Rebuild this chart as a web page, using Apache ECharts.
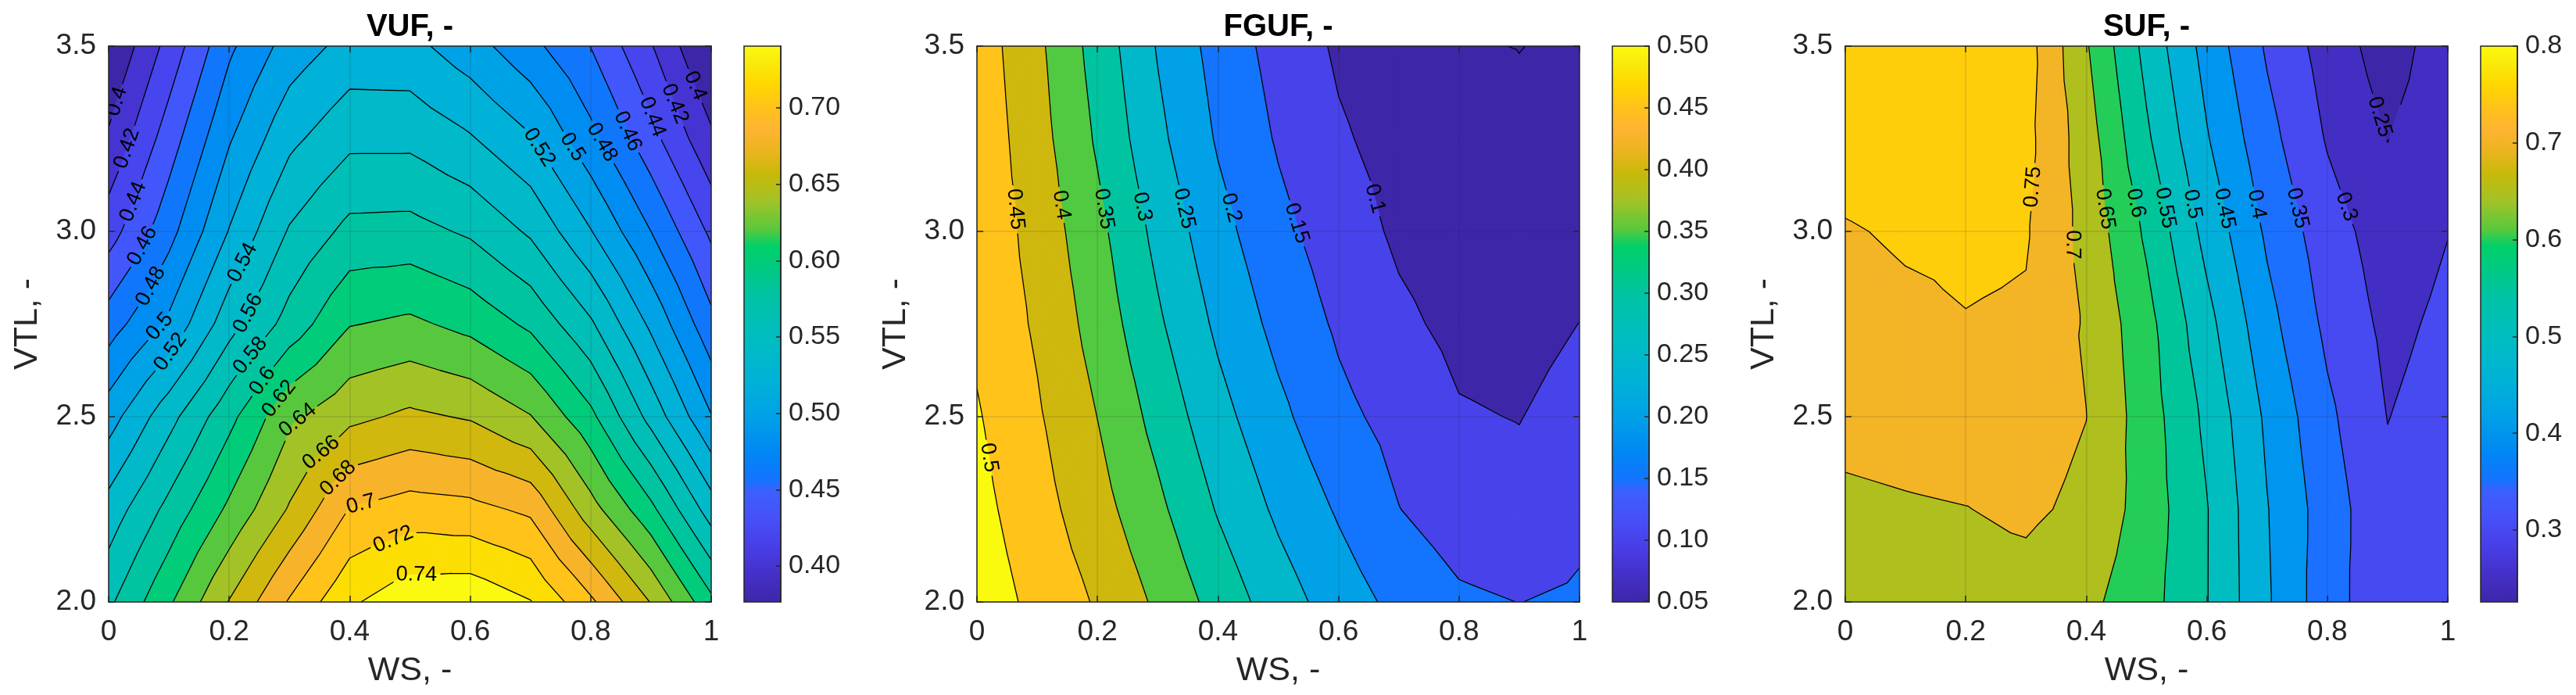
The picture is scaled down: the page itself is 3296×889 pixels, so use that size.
<!DOCTYPE html>
<html>
<head>
<meta charset="utf-8">
<title>VUF / FGUF / SUF</title>
<script src="https://cdn.jsdelivr.net/npm/echarts@6.0.0/dist/echarts.min.js"></script>
<style>
html, body { margin: 0; padding: 0; background: #fff; }
#chart { width: 3296px; height: 889px; }
</style>
</head>
<body>
<div id="chart"></div>
<script>
// measurement grid: columns = WS, rows = VTL (bottom row first)
var ws = [0, 0.1, 0.2, 0.3, 0.4, 0.5, 0.6, 0.7, 0.8, 0.9, 1.0];
var vtl = [2.0, 2.25, 2.5, 2.75, 3.0, 3.25, 3.5];

var vuf = [
    [0.576, 0.617, 0.661, 0.702, 0.737, 0.753, 0.755, 0.741, 0.704, 0.659, 0.605],
    [0.548, 0.586, 0.624, 0.662, 0.701, 0.709, 0.706, 0.696, 0.648, 0.605, 0.550],
    [0.511, 0.553, 0.594, 0.636, 0.655, 0.664, 0.658, 0.641, 0.605, 0.553, 0.501],
    [0.470, 0.504, 0.552, 0.588, 0.619, 0.624, 0.614, 0.596, 0.563, 0.516, 0.466],
    [0.431, 0.473, 0.521, 0.562, 0.586, 0.587, 0.577, 0.557, 0.521, 0.480, 0.436],
    [0.403, 0.450, 0.498, 0.535, 0.555, 0.555, 0.542, 0.522, 0.486, 0.447, 0.404],
    [0.3795, 0.427, 0.476, 0.5085, 0.527, 0.526, 0.5085, 0.486, 0.4596, 0.4215, 0.3764]
];
var fguf = [
    [0.5285, 0.487, 0.4448, 0.3915, 0.3312, 0.2742, 0.2259, 0.186, 0.158, 0.1495, 0.157],
    [0.516, 0.470, 0.419, 0.361, 0.296, 0.2407, 0.1945, 0.151, 0.125, 0.1155, 0.138],
    [0.5044, 0.4558, 0.3994, 0.3336, 0.267, 0.212, 0.163, 0.133, 0.104, 0.0985, 0.119],
    [0.490, 0.443, 0.380, 0.3077, 0.2405, 0.1855, 0.1427, 0.1096, 0.088, 0.083, 0.1005],
    [0.487, 0.432, 0.3636, 0.286, 0.217, 0.1637, 0.1245, 0.092, 0.075, 0.066, 0.075],
    [0.484, 0.420, 0.3434, 0.262, 0.1948, 0.145, 0.106, 0.083, 0.066, 0.0558, 0.062],
    [0.478, 0.411, 0.330, 0.2464, 0.1806, 0.1317, 0.093, 0.072, 0.052, 0.0495, 0.0545]
];
var suf = [
    [0.675, 0.680, 0.680, 0.682, 0.662, 0.6196, 0.552, 0.456, 0.3706, 0.315, 0.335],
    [0.690, 0.695, 0.699, 0.708, 0.690, 0.628, 0.5524, 0.4523, 0.375, 0.311, 0.330],
    [0.715, 0.720, 0.725, 0.720, 0.7005, 0.625, 0.539, 0.441, 0.3603, 0.299, 0.320],
    [0.725, 0.737, 0.748, 0.744, 0.695, 0.617, 0.516, 0.4167, 0.339, 0.288, 0.310],
    [0.745, 0.7578, 0.760, 0.7543, 0.684, 0.5915, 0.484, 0.392, 0.3217, 0.275, 0.299],
    [0.780, 0.790, 0.790, 0.7645, 0.674, 0.558, 0.4538, 0.3667, 0.296, 0.249, 0.285],
    [0.785, 0.795, 0.799, 0.771, 0.6548, 0.5344, 0.4315, 0.3438, 0.2787, 0.2256, 0.2786]
];

// contour levels
var vufLevels = [0.40, 0.42, 0.44, 0.46, 0.48, 0.50, 0.52, 0.54, 0.56, 0.58, 0.60, 0.62, 0.64, 0.66, 0.68, 0.70, 0.72, 0.74];
var fgufLevels = [0.05, 0.10, 0.15, 0.20, 0.25, 0.30, 0.35, 0.40, 0.45, 0.50];
var sufLevels = [0.25, 0.30, 0.35, 0.40, 0.45, 0.50, 0.55, 0.60, 0.65, 0.70, 0.75];

// where the inline labels sit: [level, WS, VTL]
var vufLabels = [
    [0.40, 0.019, 3.348], [0.42, 0.037, 3.22], [0.44, 0.044, 3.078], [0.46, 0.059, 2.958],
    [0.48, 0.079, 2.844], [0.50, 0.09, 2.736], [0.52, 0.112, 2.664],
    [0.54, 0.222, 2.916], [0.56, 0.233, 2.778], [0.58, 0.245, 2.652], [0.60, 0.268, 2.582],
    [0.62, 0.30, 2.526], [0.64, 0.332, 2.454], [0.66, 0.363, 2.382], [0.68, 0.395, 2.31],
    [0.70, 0.423, 2.238], [0.72, 0.473, 2.166], [0.74, 0.511, 2.094],
    [0.52, 0.704, 3.216], [0.50, 0.77, 3.228], [0.48, 0.825, 3.246], [0.46, 0.861, 3.27],
    [0.44, 0.898, 3.306], [0.42, 0.936, 3.342], [0.40, 0.969, 3.39]
];
var fgufLabels = [
    [0.50, 0.015, 2.388], [0.45, 0.065, 3.06], [0.40, 0.142, 3.072], [0.35, 0.208, 3.06],
    [0.30, 0.272, 3.066], [0.25, 0.339, 3.06], [0.20, 0.414, 3.06], [0.15, 0.523, 3.018],
    [0.10, 0.651, 3.084]
];
var sufLabels = [
    [0.75, 0.311, 3.12], [0.70, 0.384, 2.964], [0.65, 0.429, 3.06], [0.60, 0.47, 3.072],
    [0.55, 0.52, 3.06], [0.50, 0.571, 3.072], [0.45, 0.625, 3.06], [0.40, 0.68, 3.072],
    [0.35, 0.744, 3.06], [0.30, 0.821, 3.06], [0.25, 0.881, 3.306]
];

// colour bar limits and ticks
var vufRange = [0.3764, 0.7405];
var fgufRange = [0.0495, 0.50];
var sufRange = [0.2256, 0.80];
var vufBarTicks = [0.40, 0.45, 0.50, 0.55, 0.60, 0.65, 0.70];
var fgufBarTicks = [0.05, 0.10, 0.15, 0.20, 0.25, 0.30, 0.35, 0.40, 0.45, 0.50];
var sufBarTicks = [0.3, 0.4, 0.5, 0.6, 0.7, 0.8];

var FONT = 'Liberation Sans, Arial, sans-serif';
var INK = '#262626';

// parula-like colormap, stops
var CMAP = [
    [0.00, 62, 38, 168], [0.05, 68, 48, 200], [0.10, 72, 62, 230], [0.15, 70, 80, 248],
    [0.20, 60, 95, 255], [0.22, 20, 115, 255], [0.27, 0, 135, 245], [0.33, 0, 160, 232],
    [0.40, 0, 178, 215], [0.47, 0, 188, 195], [0.55, 0, 195, 165], [0.60, 0, 202, 130],
    [0.64, 0, 208, 105], [0.67, 90, 200, 60], [0.72, 160, 195, 40], [0.77, 200, 185, 10],
    [0.81, 235, 180, 30], [0.85, 255, 180, 50], [0.89, 255, 195, 25], [0.93, 255, 215, 0],
    [0.97, 250, 235, 10], [1.00, 250, 250, 15]
];

function cmap(t) {
    t = Math.max(0, Math.min(1, t));
    for (var i = 0; i < CMAP.length - 1; i++) {
        var a = CMAP[i], b = CMAP[i + 1];
        if (t <= b[0]) {
            var u = (t - a[0]) / (b[0] - a[0]);
            return 'rgb(' + Math.round(a[1] + (b[1] - a[1]) * u) + ',' +
                Math.round(a[2] + (b[2] - a[2]) * u) + ',' + Math.round(a[3] + (b[3] - a[3]) * u) + ')';
        }
    }
    var l = CMAP[CMAP.length - 1];
    return 'rgb(' + l[1] + ',' + l[2] + ',' + l[3] + ')';
}

/* ---------- contour helpers ---------- */

function cellTriangles(x0, y0, x1, y1, v00, v10, v01, v11) {
    var a = {x: x0, y: y0, v: v00}, b = {x: x1, y: y0, v: v10};
    var c = {x: x1, y: y1, v: v11}, d = {x: x0, y: y1, v: v01};
    var m = {x: (x0 + x1) / 2, y: (y0 + y1) / 2, v: (v00 + v10 + v01 + v11) / 4};
    return [[a, b, m], [b, c, m], [c, d, m], [d, a, m]];
}
function lerp(a, b, lev) {
    var t = (lev - a.v) / (b.v - a.v);
    return {x: a.x + t * (b.x - a.x), y: a.y + t * (b.y - a.y), v: lev};
}
// keep the part of a polygon above (or below) a level
function cut(poly, lev, above) {
    var out = [];
    for (var i = 0; i < poly.length; i++) {
        var cur = poly[i], prev = poly[(i + poly.length - 1) % poly.length];
        var cin = above ? cur.v >= lev : cur.v <= lev;
        var pin = above ? prev.v >= lev : prev.v <= lev;
        if (cin) {
            if (!pin) out.push(lerp(prev, cur, lev));
            out.push(cur);
        } else if (pin) {
            out.push(lerp(prev, cur, lev));
        }
    }
    return out;
}
function bandPieces(tri, levels) {
    var pieces = [];
    for (var b = -1; b < levels.length; b++) {
        var poly = tri;
        if (b >= 0) poly = cut(poly, levels[b], true);
        if (poly.length >= 3 && b + 1 < levels.length) poly = cut(poly, levels[b + 1], false);
        if (poly.length >= 3) pieces.push({band: b, poly: poly});
    }
    return pieces;
}
function triSegment(tri, lev) {
    var pts = [];
    for (var i = 0; i < 3; i++) {
        var a = tri[i], b = tri[(i + 1) % 3];
        if ((a.v < lev) !== (b.v < lev)) pts.push(lerp(a, b, lev));
    }
    return pts.length === 2 ? pts : null;
}
function cutCircle(p, q, c, r) {
    var dx = q[0] - p[0], dy = q[1] - p[1];
    var fx = p[0] - c[0], fy = p[1] - c[1];
    var A = dx * dx + dy * dy, B = 2 * (fx * dx + fy * dy), C = fx * fx + fy * fy - r * r;
    if (A === 0) return C > 0 ? [[p, q]] : [];
    var disc = B * B - 4 * A * C;
    if (disc <= 0) return [[p, q]];
    var s = Math.sqrt(disc), t1 = (-B - s) / (2 * A), t2 = (-B + s) / (2 * A);
    if (t2 <= 0 || t1 >= 1) return [[p, q]];
    var out = [];
    if (t1 > 0) out.push([p, [p[0] + dx * t1, p[1] + dy * t1]]);
    if (t2 < 1) out.push([[p[0] + dx * t2, p[1] + dy * t2], q]);
    return out;
}
function textWidth(str, size) {
    var t = new echarts.graphic.Text({style: {text: str, fontSize: size, fontFamily: FONT}});
    return t.getBoundingRect().width;
}

/* ---------- panels ---------- */

var panels = [
    {title: 'VUF, -', z: vuf, levels: vufLevels, labels: vufLabels, range: vufRange, barTicks: vufBarTicks, digits: 2, left: 139},
    {title: 'FGUF, -', z: fguf, levels: fgufLevels, labels: fgufLabels, range: fgufRange, barTicks: fgufBarTicks, digits: 2, left: 1250},
    {title: 'SUF, -', z: suf, levels: sufLevels, labels: sufLabels, range: sufRange, barTicks: sufBarTicks, digits: 1, left: 2361}
];
var PLOT_TOP = 59, PLOT_W = 771, PLOT_H = 711, BAR_OFF = 813, BAR_W = 47;

panels.forEach(function (p) {
    var span = p.range[1] - p.range[0];
    p.bandColors = [cmap(0)].concat(p.levels.map(function (l) {
        return cmap((l - p.range[0]) / span);
    }));
    p.cells = [];
    for (var r = 0; r < vtl.length - 1; r++) {
        for (var c = 0; c < ws.length - 1; c++) {
            p.cells.push([ws[c], vtl[r], ws[c + 1], vtl[r + 1],
                p.z[r][c], p.z[r][c + 1], p.z[r + 1][c], p.z[r + 1][c + 1]]);
        }
    }
});

function renderFill(p) {
    return function (params, api) {
        var tris = cellTriangles(api.value(0), api.value(1), api.value(2), api.value(3),
            api.value(4), api.value(5), api.value(6), api.value(7));
        var children = [];
        tris.forEach(function (tri) {
            bandPieces(tri, p.levels).forEach(function (piece) {
                var pts = piece.poly.map(function (q) { return api.coord([q.x, q.y]); });
                var col = p.bandColors[piece.band + 1];
                children.push({type: 'polygon', shape: {points: pts},
                    style: {fill: col, stroke: col, lineWidth: 1}});
            });
        });
        return {type: 'group', children: children};
    };
}

function renderLines(p) {
    return function (params, api) {
        var segs = p.levels.map(function () { return []; });
        p.cells.forEach(function (cell) {
            var tris = cellTriangles.apply(null, cell);
            tris.forEach(function (tri) {
                p.levels.forEach(function (lev, li) {
                    var s = triSegment(tri, lev);
                    if (s) segs[li].push([api.coord([s[0].x, s[0].y]), api.coord([s[1].x, s[1].y])]);
                });
            });
        });

        var children = [];
        var gaps = p.levels.map(function () { return []; });
        p.labels.forEach(function (lab) {
            var li = -1;
            p.levels.forEach(function (l, k) { if (Math.abs(l - lab[0]) < 1e-9) li = k; });
            if (li < 0 || !segs[li].length) return;
            var a = api.coord([lab[1], lab[2]]);
            var best = null, bestD = Infinity;
            segs[li].forEach(function (s) {
                var dx = s[1][0] - s[0][0], dy = s[1][1] - s[0][1];
                var L = dx * dx + dy * dy;
                var t = L ? ((a[0] - s[0][0]) * dx + (a[1] - s[0][1]) * dy) / L : 0;
                t = Math.max(0, Math.min(1, t));
                var px = s[0][0] + t * dx, py = s[0][1] + t * dy;
                var d = (px - a[0]) * (px - a[0]) + (py - a[1]) * (py - a[1]);
                if (d < bestD) { bestD = d; best = {x: px, y: py, dx: dx, dy: dy}; }
            });
            var ang = Math.atan2(best.dy, best.dx);
            if (ang > Math.PI / 2) ang -= Math.PI;
            if (ang < -Math.PI / 2) ang += Math.PI;
            var txt = String(+lab[0].toFixed(2));
            gaps[li].push({c: [best.x, best.y], r: textWidth(txt, 27) / 2 + 5});
            children.push({
                type: 'text', x: best.x, y: best.y, rotation: -ang, z2: 10,
                style: {text: txt, fontSize: 27, fontFamily: FONT, fill: '#000',
                    align: 'center', verticalAlign: 'middle',
                    textAlign: 'center', textVerticalAlign: 'middle'}
            });
        });

        var path = '';
        segs.forEach(function (list, li) {
            list.forEach(function (s) {
                var pieces = [s];
                gaps[li].forEach(function (g) {
                    var next = [];
                    pieces.forEach(function (pc) { next = next.concat(cutCircle(pc[0], pc[1], g.c, g.r)); });
                    pieces = next;
                });
                pieces.forEach(function (pc) {
                    path += 'M' + pc[0][0].toFixed(2) + ' ' + pc[0][1].toFixed(2) +
                        'L' + pc[1][0].toFixed(2) + ' ' + pc[1][1].toFixed(2);
                });
            });
        });
        children.unshift({type: 'path', shape: {pathData: path},
            style: {fill: 'none', stroke: '#000', lineWidth: 1.3, lineCap: 'round', lineJoin: 'round'}});
        return {type: 'group', children: children};
    };
}

function renderBar(p) {
    var stops = CMAP.map(function (c) { return {offset: c[0], color: 'rgb(' + c[1] + ',' + c[2] + ',' + c[3] + ')'}; });
    return function (params, api) {
        var lo = api.coord([0, p.range[0]]), hi = api.coord([1, p.range[1]]);
        return {
            type: 'rect',
            shape: {x: lo[0], y: hi[1], width: hi[0] - lo[0], height: lo[1] - hi[1]},
            style: {fill: new echarts.graphic.LinearGradient(0, 1, 0, 0, stops), stroke: INK, lineWidth: 1.5}
        };
    };
}

/* ---------- option ---------- */

var grids = [], xAxes = [], yAxes = [], series = [], graphics = [];
var lineStyle = {color: INK, width: 1.5};

panels.forEach(function (p, k) {
    grids.push({left: p.left, top: PLOT_TOP, width: PLOT_W, height: PLOT_H});
    grids.push({left: p.left + BAR_OFF, top: PLOT_TOP, width: BAR_W, height: PLOT_H});

    xAxes.push({
        type: 'value', gridIndex: 2 * k, min: 0, max: 1, interval: 0.2, position: 'bottom', z: 5,
        name: 'WS, -', nameLocation: 'middle', nameGap: 67,
        nameTextStyle: {fontSize: 43, color: INK, fontFamily: FONT},
        axisLine: {show: true, onZero: false, lineStyle: lineStyle},
        axisTick: {show: true, inside: true, length: 8, lineStyle: lineStyle},
        axisLabel: {margin: 20, fontSize: 37, color: INK, fontFamily: FONT,
            formatter: function (v) { return String(Math.round(v * 10) / 10); }},
        splitLine: {show: true, lineStyle: {color: 'rgba(38,38,38,0.15)', width: 1.5}}
    });
    xAxes.push({
        type: 'value', gridIndex: 2 * k, min: 0, max: 1, interval: 0.2, position: 'top', z: 5,
        axisLine: {show: true, onZero: false, lineStyle: lineStyle},
        axisTick: {show: true, inside: true, length: 8, lineStyle: lineStyle},
        axisLabel: {show: false}, splitLine: {show: false}
    });
    xAxes.push({type: 'value', gridIndex: 2 * k + 1, min: 0, max: 1, show: false});

    yAxes.push({
        type: 'value', gridIndex: 2 * k, min: 2, max: 3.5, interval: 0.5, position: 'left', z: 5,
        name: 'VTL, -', nameLocation: 'middle', nameGap: 82,
        nameTextStyle: {fontSize: 43, color: INK, fontFamily: FONT},
        axisLine: {show: true, onZero: false, lineStyle: lineStyle},
        axisTick: {show: true, inside: true, length: 8, lineStyle: lineStyle},
        axisLabel: {margin: 16, fontSize: 37, color: INK, fontFamily: FONT,
            formatter: function (v) { return v.toFixed(1); }},
        splitLine: {show: true, lineStyle: {color: 'rgba(38,38,38,0.15)', width: 1.5}}
    });
    yAxes.push({
        type: 'value', gridIndex: 2 * k, min: 2, max: 3.5, interval: 0.5, position: 'right', z: 5,
        axisLine: {show: true, onZero: false, lineStyle: lineStyle},
        axisTick: {show: true, inside: true, length: 8, lineStyle: lineStyle},
        axisLabel: {show: false}, splitLine: {show: false}
    });
    yAxes.push({
        type: 'value', gridIndex: 2 * k + 1, min: p.range[0], max: p.range[1], position: 'right', z: 5,
        axisLine: {show: true, onZero: false, lineStyle: lineStyle},
        axisTick: {show: true, inside: true, length: 6, lineStyle: lineStyle, customValues: p.barTicks},
        axisLabel: {margin: 10, fontSize: 34, color: INK, fontFamily: FONT, customValues: p.barTicks,
            formatter: (function (d) { return function (v) { return v.toFixed(d); }; })(p.digits)},
        splitLine: {show: false}
    });

    series.push({
        type: 'custom', name: p.title + ' fill', xAxisIndex: 3 * k, yAxisIndex: 3 * k, z: 1,
        clip: true, silent: true, encode: {x: [0, 2], y: [1, 3]},
        data: p.cells, renderItem: renderFill(p)
    });
    series.push({
        type: 'custom', name: p.title + ' lines', xAxisIndex: 3 * k, yAxisIndex: 3 * k, z: 2,
        clip: true, silent: true, encode: {x: [0, 2], y: [1, 3]},
        data: [[ws[0], vtl[0], ws[ws.length - 1], vtl[vtl.length - 1]]], renderItem: renderLines(p)
    });
    series.push({
        type: 'custom', name: p.title + ' colorbar', xAxisIndex: 3 * k + 2, yAxisIndex: 3 * k + 2, z: 1,
        silent: true, encode: {x: [0, 2], y: [1, 3]},
        data: [[0, p.range[0], 1, p.range[1]]], renderItem: renderBar(p)
    });

    graphics.push({
        type: 'text', x: p.left + PLOT_W / 2, y: 35,
        style: {text: p.title, fontSize: 40, fontWeight: 'bold', fontFamily: FONT, fill: '#000',
            align: 'center', verticalAlign: 'middle', textAlign: 'center', textVerticalAlign: 'middle'}
    });
});

var myChart = echarts.init(document.getElementById('chart'));
myChart.setOption({
    animation: false,
    backgroundColor: '#fff',
    grid: grids,
    xAxis: xAxes,
    yAxis: yAxes,
    series: series,
    graphic: graphics
});
</script>
</body>
</html>
